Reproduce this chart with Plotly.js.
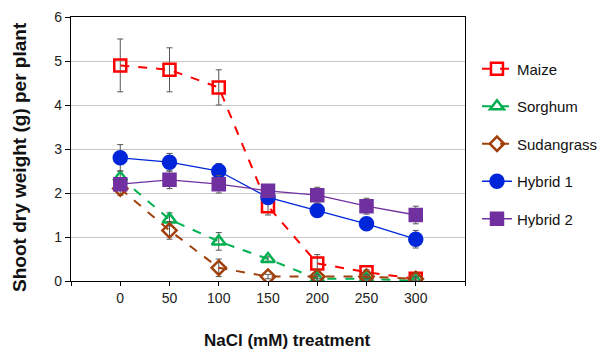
<!DOCTYPE html>
<html><head><meta charset="utf-8">
<script src="https://cdn.plot.ly/plotly-3.0.1.min.js"></script>
<style>html,body{margin:0;padding:0;background:#fff}#chart{width:603px;height:350px}</style>
</head><body><div id="chart"></div>
<script>
const nacl = [0, 50, 100, 150, 200, 250, 300];
const seriesNames = ["Maize", "Sorghum", "Sudangrass", "Hybrid 1", "Hybrid 2"];
const maize = [4.9, 4.8, 4.4, 1.7, 0.4, 0.2, 0.05];
const maizeErr = [0.6, 0.5, 0.4, 0.2, 0.2, 0.05, 0.05];
const sorghum = [2.35, 1.4, 0.9, 0.5, 0.05, 0.05, 0.0];
const sorghumErr = [0.15, 0.15, 0.2, 0.05, 0.05, 0.05, 0.05];
const sudangrass = [2.1, 1.15, 0.3, 0.1, 0.1, 0.1, 0.05];
const sudangrassErr = [0.15, 0.2, 0.2, 0.05, 0.05, 0.05, 0.05];
const hybrid1 = [2.8, 2.7, 2.5, 1.9, 1.6, 1.3, 0.95];
const hybrid1Err = [0.3, 0.2, 0.17, 0.1, 0.1, 0.1, 0.2];
const hybrid2 = [2.2, 2.3, 2.2, 2.05, 1.95, 1.7, 1.5];
const hybrid2Err = [0.1, 0.2, 0.2, 0.1, 0.18, 0.18, 0.2];
const xTickVals = [-50, 0, 50, 100, 150, 200, 250, 300, 350];
const xTickText = ["", "0", "50", "100", "150", "200", "250", "300", ""];

const values = [maize, sorghum, sudangrass, hybrid1, hybrid2];
const errs = [maizeErr, sorghumErr, sudangrassErr, hybrid1Err, hybrid2Err];
const colors = ["#FF0000", "#00B050", "#A0400C", "#0026DA", "#7030A0"];
const symbols = ["square-open", "triangle-up-open", "diamond-open", "circle", "square"];
const dashes = ["dash", "dash", "dash", "solid", "solid"];
const widths = [2, 2, 2, 1.3, 1.3];
const msizes = [12, 12, 11, 13, 12];

const traces = seriesNames.map((n, i) => ({
  x: nacl, y: values[i], name: n, type: "scatter", mode: "lines+markers",
  legendgroup: "g" + i,
  line: {color: colors[i], dash: dashes[i], width: widths[i]},
  marker: {symbol: symbols[i], color: colors[i], size: msizes[i], line: {color: colors[i], width: 2.5}},
  error_y: {type: "data", array: errs[i], visible: true, color: "#555", thickness: 1, width: 3}
}));

const layout = {
  width: 603, height: 350,
  margin: {l: 71, r: 138, t: 17, b: 69},
  paper_bgcolor: "#fff", plot_bgcolor: "#fff",
  font: {family: "Arial, 'Liberation Sans', sans-serif", size: 14, color: "#222"},
  showlegend: true,
  legend: {xref: "container", yref: "container", x: 0.791, xanchor: "left", y: 0.85, yanchor: "top",
           traceorder: "grouped", tracegroupgap: 15,
           font: {size: 15, color: "#111"}, bgcolor: "rgba(0,0,0,0)"},
  xaxis: {range: [-50, 350], tickvals: xTickVals, ticktext: xTickText, ticks: "outside", ticklen: 4,
          tickcolor: "#000", showline: true, linecolor: "#000", linewidth: 1.2, mirror: true,
          showgrid: false, zeroline: false, tickfont: {size: 14, color: "#222"}},
  yaxis: {range: [0, 6], dtick: 1, ticks: "outside", ticklen: 5, tickcolor: "#000",
          showline: true, linecolor: "#000", linewidth: 1.2, mirror: true,
          showgrid: true, gridcolor: "#c8c8c8", gridwidth: 1, zeroline: false,
          tickfont: {size: 14, color: "#222"}},
  annotations: [
    {text: "<b>NaCl (mM) treatment</b>", xref: "paper", yref: "paper", x: 0.55, y: 0,
     xanchor: "center", yanchor: "top", yshift: -48, showarrow: false,
     font: {size: 17, color: "#111"}},
    {text: "<b>Shoot dry weight (g) per plant</b>", xref: "paper", yref: "paper", x: 0, y: 0.47,
     xanchor: "center", yanchor: "middle", xshift: -51, textangle: -90, showarrow: false,
     font: {size: 19, color: "#111"}}
  ]
};
Plotly.newPlot("chart", traces, layout, {displayModeBar: false, staticPlot: true});
</script></body></html>
